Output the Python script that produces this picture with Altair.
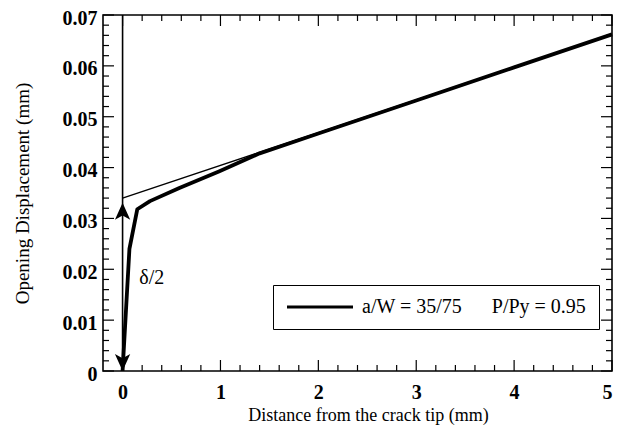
import altair as alt
import pandas as pd
import numpy as np

# ---- data ----
thick_x = [0, 0.035, 0.07, 0.15, 0.28, 0.58, 0.99, 1.4, 2.0, 3.0, 4.0, 5.0]
thick_y = [0, 0.012, 0.024, 0.0318, 0.0334, 0.036, 0.0393, 0.0428, 0.0467, 0.0532, 0.0597, 0.0662]
thin_x = [0, 5.0]
thin_y = [0.034, 0.0662]
vline_x = [0, 0]
vline_y = [0, 0.07]
arrow_up = {"x": [0], "y": [0.0331]}
arrow_down = {"x": [0], "y": [0.0]}
label_delta = {"x": [0.17], "y": [0.0183], "t": ["δ/2"]}
series_name = "a/W = 35/75" + "\u00a0" * 6 + "P/Py = 0.95"

x_major = [0, 1, 2, 3, 4, 5]
x_minor = [round(v, 1) for v in np.arange(0.2, 5.0, 0.2) if abs(v - round(v)) > 1e-6]
y_major = [0, 0.01, 0.02, 0.03, 0.04, 0.05, 0.06, 0.07]
y_minor = [round(v, 3) for v in np.arange(0.002, 0.07, 0.002) if abs(v * 100 - round(v * 100)) > 1e-6]

W, H = 509, 356
FONT = "Liberation Serif"
MAJ, MIN = 11, 6

x_enc = alt.X("x:Q", scale=alt.Scale(domain=[-0.2, 5], nice=False, zero=False),
              axis=alt.Axis(values=x_major, format="d", title="Distance from the crack tip (mm)",
                            ticks=False, domain=False, grid=False, labelPadding=11,
                            titleFontSize=18,
                            titleX=265, titleY=49, titleBaseline="alphabetic"))
y_enc = alt.Y("y:Q", scale=alt.Scale(domain=[0, 0.07], nice=False),
              axis=alt.Axis(values=y_major, format=".2~f", title="Opening Displacement (mm)",
                            ticks=False, domain=False, grid=False, labelPadding=6,
                            labelOffset=3, titleFontSize=19,
                            titleX=-75, titleBaseline="alphabetic"))

thick_df = pd.DataFrame({"x": thick_x, "y": thick_y, "series": series_name})
thin_df = pd.DataFrame({"x": thin_x, "y": thin_y})
vline_df = pd.DataFrame({"x": vline_x, "y": vline_y})

# legend symbol: a long horizontal stroke drawn from the left edge of a small symbol box
legend_line = "M-1,0 L7.25,0"

thick = alt.Chart(thick_df).mark_line(strokeWidth=3.8, strokeJoin="round").encode(
    x=x_enc, y=y_enc,
    color=alt.Color("series:N", scale=alt.Scale(range=["black"]),
                    legend=alt.Legend(title=None, orient="none", legendX=170, legendY=270,
                                      symbolType=legend_line, symbolSize=256, symbolStrokeWidth=3,
                                      symbolStrokeColor="black",
                                      labelFont=FONT, labelFontSize=20, labelColor="black",
                                      labelOffset=57, padding=12, strokeColor="black",
                                      fillColor="white", labelLimit=500)))
thin = alt.Chart(thin_df).mark_line(strokeWidth=1.3, color="black").encode(x=x_enc, y=y_enc)
vline = alt.Chart(vline_df).mark_line(strokeWidth=1.6, color="black").encode(x=x_enc, y=y_enc)

up_path = "M0,0 L0.9,2 L0,1.5 L-0.9,2 Z"
down_path = "M0,0 L0.9,-2 L0,-1.5 L-0.9,-2 Z"
a_up = alt.Chart(pd.DataFrame(arrow_up)).mark_point(shape=up_path, size=289, filled=True,
                                                    color="black", opacity=1).encode(x=x_enc, y=y_enc)
a_down = alt.Chart(pd.DataFrame(arrow_down)).mark_point(shape=down_path, size=289, filled=True,
                                                        color="black", opacity=1).encode(x=x_enc, y=y_enc)
txt = alt.Chart(pd.DataFrame(label_delta)).mark_text(font=FONT, fontSize=20, align="left",
                                                     baseline="middle", color="black").encode(
    x=x_enc, y=y_enc, text="t:N")

# ---- inside ticks ----
def xticks(vals, length):
    df = pd.DataFrame({"x": vals})
    bottom = alt.Chart(df).mark_rule(color="black", strokeWidth=1.2).encode(
        x=x_enc, y=alt.value(H), y2=alt.value(H - length))
    top = alt.Chart(df).mark_rule(color="black", strokeWidth=1.2).encode(
        x=x_enc, y=alt.value(0), y2=alt.value(length))
    return [bottom, top]

def yticks(vals, length):
    df = pd.DataFrame({"y": vals})
    left = alt.Chart(df).mark_rule(color="black", strokeWidth=1.2).encode(
        y=y_enc, x=alt.value(0), x2=alt.value(length))
    right = alt.Chart(df).mark_rule(color="black", strokeWidth=1.2).encode(
        y=y_enc, x=alt.value(W), x2=alt.value(W - length))
    return [left, right]

layers = (xticks(x_major, MAJ) + xticks(x_minor, MIN) + yticks(y_major, MAJ) + yticks(y_minor, MIN)
          + [thin, vline, thick, a_up, a_down, txt])

chart = alt.layer(*layers).properties(
    width=W, height=H,
    autosize=alt.AutoSizeParams(type="none"),
    padding={"left": 95, "top": 7, "right": 15, "bottom": 55},
    background="white",
).configure_view(stroke="black", strokeWidth=1.6).configure_axis(
    labelFont=FONT, labelFontSize=20, labelFontWeight="bold", labelColor="black",
    titleFont=FONT, titleFontWeight="normal", titleColor="black",
)

chart.save("out.html", embed_options={"renderer": "svg", "actions": False})
